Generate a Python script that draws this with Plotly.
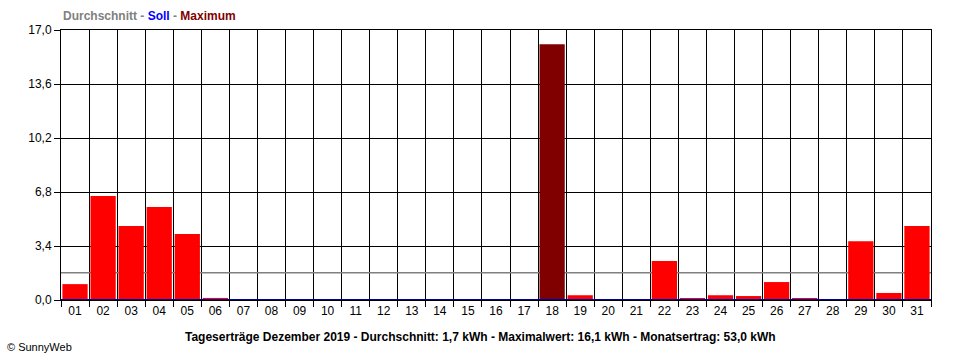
import plotly.graph_objects as go

days = [f"{d:02d}" for d in range(1, 32)]
yields = [1.0, 6.55, 4.66, 5.86, 4.16, 0.13, 0, 0, 0, 0, 0, 0, 0, 0, 0, 0, 0,
          16.1, 0.3, 0, 0, 2.46, 0.1, 0.3, 0.25, 1.13, 0.1, 0, 3.7, 0.44, 4.66]
average = 1.71
soll = 0.0
y_ticks = [0.0, 3.4, 6.8, 10.2, 13.6, 17.0]
y_tick_labels = ["0,0", "3,4", "6,8", "10,2", "13,6", "17,0"]

xpos = list(range(1, 32))
maxv = max(yields)
colors = ["#800000" if v == maxv else "#FF0000" for v in yields]

FONT = "Liberation Sans"

fig = go.Figure()
fig.add_trace(go.Bar(x=xpos, y=yields, marker=dict(color=colors, line=dict(width=0)),
                     width=0.9, hoverinfo="skip"))
fig.add_trace(go.Scatter(x=[0.5, 31.5], y=[soll, soll], mode="lines",
                         line=dict(color="#0000A0", width=2), hoverinfo="skip", cliponaxis=False))

fig.add_shape(type="line", xref="x", yref="y", x0=0.5, x1=31.5, y0=average, y1=average,
              line=dict(color="#808080", width=1.5), layer="between")

fig.update_layout(
    width=960, height=360,
    margin=dict(l=61, r=29, t=30, b=60),
    paper_bgcolor="white", plot_bgcolor="white",
    showlegend=False,
    font=dict(family=FONT, size=12, color="black"),
    xaxis=dict(range=[0.5, 31.5], tickvals=xpos, ticktext=days, ticks="",
               showgrid=False, zeroline=False, showline=True, linecolor="black",
               linewidth=1, mirror=True, tickfont=dict(size=12),
               minor=dict(tick0=0.5, dtick=1, showgrid=True, gridcolor="black",
                          gridwidth=1, ticks="outside", ticklen=6, tickcolor="black")),
    yaxis=dict(range=[0, 17], tickvals=y_ticks, ticktext=y_tick_labels,
               ticks="outside", ticklen=6, tickcolor="black",
               showgrid=True, gridcolor="black", gridwidth=1, zeroline=False,
               showline=True, linecolor="black", linewidth=1, mirror=True,
               tickfont=dict(size=12)),
    annotations=[
        dict(xref="paper", yref="paper", x=0.0, y=1.0, yshift=14, xanchor="left", yanchor="middle",
             showarrow=False, font=dict(family=FONT, size=12),
             text="<b><span style='color:#808080'>Durchschnitt - </span>"
                  "<span style='color:#0000FF'>Soll</span>"
                  "<span style='color:#808080'> - </span>"
                  "<span style='color:#800000'>Maximum</span></b>"),
        dict(xref="paper", yref="paper", x=(480 - 61) / 870, y=0, yshift=-37,
             xanchor="center", yanchor="middle", showarrow=False,
             font=dict(family=FONT, size=12, color="black"),
             text="<b>Tageserträge Dezember 2019 - Durchschnitt: 1,7 kWh - Maximalwert: 16,1 kWh - Monatsertrag: 53,0 kWh</b>"),
        dict(xref="paper", yref="paper", x=-61 / 870 + 5 / 870, y=0, yshift=-47,
             xanchor="left", yanchor="middle", showarrow=False,
             font=dict(family=FONT, size=11, color="black"),
             text="© SunnyWeb"),
    ],
)

fig.write_html("out.html")
